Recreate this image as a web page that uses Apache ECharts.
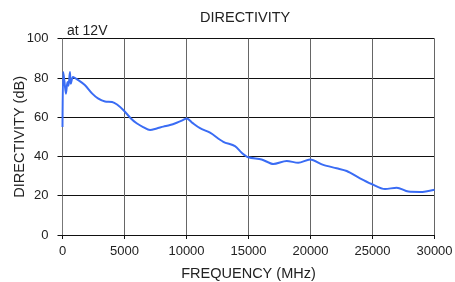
<!DOCTYPE html>
<html><head><meta charset="utf-8">
<script src="https://cdn.jsdelivr.net/npm/echarts@6/dist/echarts.min.js"></script>
<style>html,body{margin:0;padding:0;background:#fff}#c{width:455px;height:282px}</style>
</head><body><div id="c"></div>
<script>
const freq = [0,60,160,280,400,480,600,670,850,1250,1800,2400,2860,3430,4000,4400,4900,5500,5980,6500,7060,7600,8130,8670,9210,9700,10020,10500,11090,11900,12970,13910,14450,14990,16060,17000,18080,19010,19960,21030,22110,22920,23990,24930,26010,26950,27890,28830,30000];
const dB =   [55,83,78,72,78,76,83,77,80.5,79,76.4,72,69.6,68,67.8,66.5,63.7,59.5,56.9,55,53.5,54.3,55.2,56,57.2,58.5,59.4,57,54.4,52.1,47.5,45.3,41.9,39.6,38.5,36.2,37.7,36.8,38.5,35.7,34,32.6,28.9,26,23.4,24.1,22.1,21.9,23.1];
const xTicks = [0,5000,10000,15000,20000,25000,30000];
const yTicks = [0,20,40,60,80,100];
const titleText = 'DIRECTIVITY';
const noteText = 'at 12V';
const xName = 'FREQUENCY (MHz)';
const yName = 'DIRECTIVITY (dB)';

const font = 'Liberation Sans, Arial, sans-serif';
const chart = echarts.init(document.getElementById('c'), null, {renderer:'canvas'});
chart.setOption({
  animation:false,
  title:{text:titleText,left:195,top:5,textStyle:{fontFamily:font,fontSize:14.5,fontWeight:'normal',color:'#222'}},
  grid:{left:62.5,right:20.5,top:38.7,bottom:47,containLabel:false,outerBoundsMode:'none'},
  graphic:[{type:'text',left:67,top:24,style:{text:noteText,font:'14px '+font,fill:'#222'}}],
  xAxis:{type:'value',min:0,max:30000,interval:5000,
    name:xName,nameLocation:'middle',nameGap:31,nameMoveOverlap:false,nameTextStyle:{fontFamily:font,fontSize:14.5,color:'#222'},
    axisLine:{lineStyle:{color:'#111',width:1}},
    axisTick:{show:true,inside:false,length:4,lineStyle:{color:'#111'}},
    axisLabel:{margin:10,fontFamily:font,fontSize:13,color:'#222',formatter:v=>xTicks.includes(v)?String(v):''},
    splitLine:{show:true,lineStyle:{color:'#666',width:1}}},
  yAxis:{type:'value',min:0,max:100,interval:20,
    name:yName,nameLocation:'middle',nameGap:35,nameMoveOverlap:false,nameTextStyle:{fontFamily:font,fontSize:14.5,color:'#222'},
    axisLine:{show:true,lineStyle:{color:'#777',width:1}},
    axisTick:{show:true,inside:false,length:5,lineStyle:{color:'#111'}},
    axisLabel:{margin:14,fontFamily:font,fontSize:13,color:'#222',formatter:v=>yTicks.includes(v)?String(v):''},
    splitLine:{show:true,lineStyle:{color:'#111',width:1}}},
  series:[{type:'line',data:freq.map((f,i)=>[f,dB[i]]),showSymbol:false,smooth:0.3,
    lineStyle:{color:'#3a6cf4',width:2},itemStyle:{color:'#3a6cf4'}}]
});
</script></body></html>
